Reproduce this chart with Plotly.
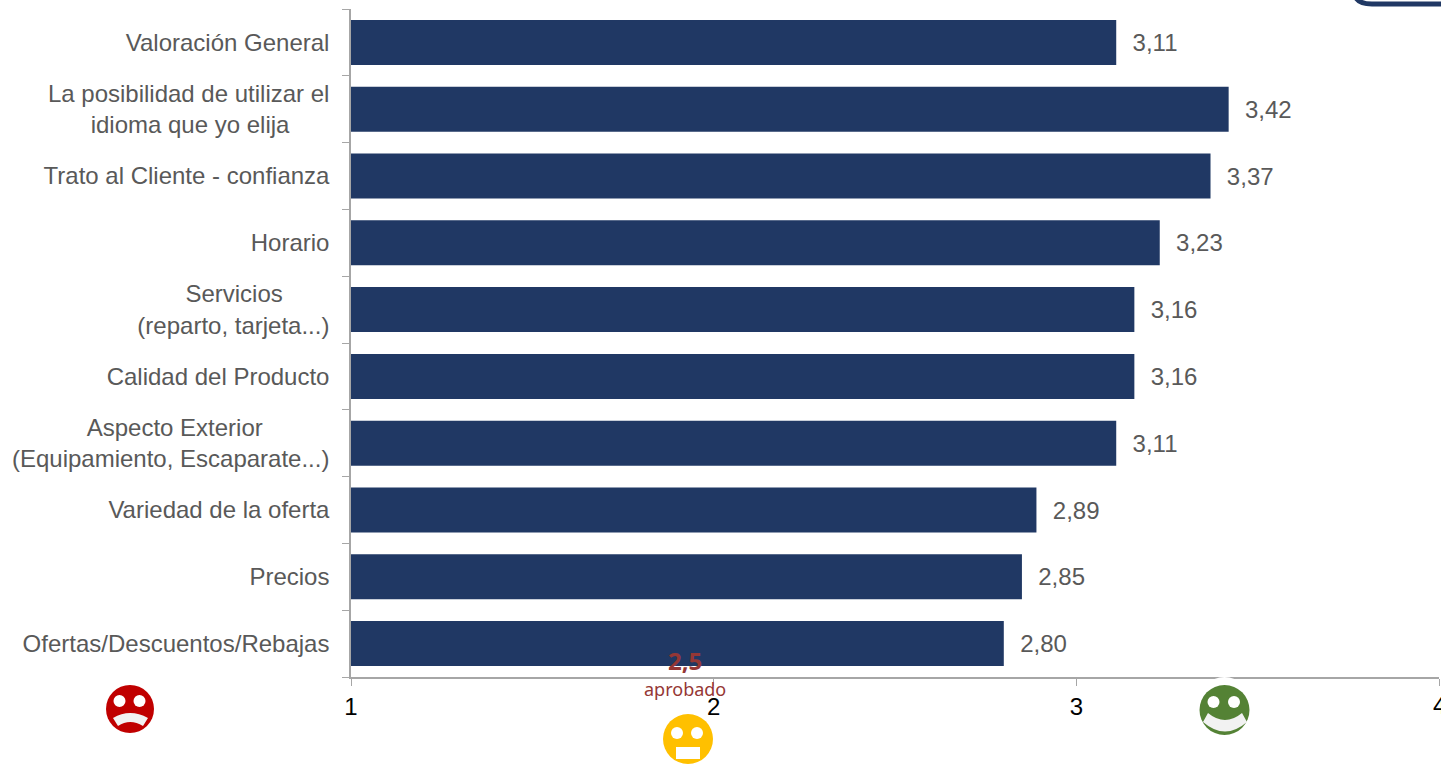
import plotly.graph_objects as go

NB = "\u00a0"
categories = [
    "Valoración General",
    "La posibilidad de utilizar el<br>idioma que yo elija" ,
    "Trato al Cliente - confianza",
    "Horario",
    "Servicios<br>(reparto, tarjeta...)",
    "Calidad del Producto",
    "Aspecto Exterior<br>(Equipamiento, Escaparate...)",
    "Variedad de la oferta",
    "Precios",
    "Ofertas/Descuentos/Rebajas",
]
tick_labels = [
    "Valoración General",
    "La posibilidad de utilizar el<br>idioma que yo elija" + NB * 6,
    "Trato al Cliente - confianza",
    "Horario",
    "Servicios" + NB * 7 + "<br>(reparto, tarjeta...)",
    "Calidad del Producto",
    "Aspecto Exterior" + NB * 10 + "<br>(Equipamiento, Escaparate...)",
    "Variedad de la oferta",
    "Precios",
    "Ofertas/Descuentos/Rebajas",
]
values = [3.11, 3.42, 3.37, 3.23, 3.16, 3.16, 3.11, 2.89, 2.85, 2.80]
x_ticks = [1, 2, 3, 4]

W, H = 1441, 764
L, R, T, B = 351, 1439, 9, 677
GREY = "#A6A6A6"
NAVY = "#203864"
TXT = "#595959"
MAROON = "#953735"


def px(x):
    return (x - L) / (R - L)


def py(y):
    return (B - y) / (B - T)


def circle(cx, cy, r, color):
    return dict(type="circle", xref="paper", yref="paper", layer="above",
                x0=px(cx - r), x1=px(cx + r), y0=py(cy + r), y1=py(cy - r),
                fillcolor=color, line_width=0)


def path(cmds, color, width=0, fill=None):
    parts = []
    for c in cmds:
        op, pts = c[0], c[1:]
        parts.append(op + " ".join(f"{px(a):.6f},{py(b):.6f}" for a, b in pts))
    return dict(type="path", xref="paper", yref="paper", layer="above",
                path=" ".join(parts) + (" Z" if fill else ""),
                fillcolor=fill if fill else "rgba(0,0,0,0)",
                line=dict(color=color, width=width))


FACE = "#F2F2F2"
shapes = [
    # sad face
    circle(130, 709, 24, "#C00000"),
    circle(119.5, 701, 6, "white"),
    circle(139.5, 701, 6, "white"),
    path([("M", (113, 718)), ("Q", (130, 708), (148, 718)), ("L", (143, 726)),
          ("Q", (130, 718), (118, 726))], FACE, fill=FACE),
    # neutral face
    circle(688, 739, 25, "#FFC000"),
    circle(677, 733, 6, "white"),
    circle(697, 733, 6, "white"),
    path([("M", (676, 747)), ("L", (700, 747)), ("L", (700, 759)), ("L", (676, 759))], "white", fill="white"),
    # happy face
    circle(1224.5, 703, 26, "white"),
    circle(1224.5, 710, 25, "#548235"),
    circle(1213.5, 702, 6, "white"),
    circle(1234, 702, 6, "white"),
    path([("M", (1208, 713)), ("Q", (1225, 727), (1242, 713)), ("L", (1247, 722)),
          ("Q", (1225, 741), (1203, 722))], FACE, fill=FACE),
    # clipped rounded frame in the top right corner
    path([("M", (1356, -2)), ("Q", (1360, 4), (1372, 4)), ("L", (1445, 4))], NAVY, width=5),
]

fig = go.Figure(go.Bar(
    x=values, y=categories, orientation="h",
    marker=dict(color=NAVY, line_width=0),
    text=[NB * 2 + f"{v:.2f}".replace(".", ",") for v in values],
    textposition="outside", cliponaxis=False,
    textfont=dict(family="Liberation Sans", size=24, color=TXT),
    hoverinfo="x+y",
))

fig.update_layout(
    width=W, height=H, autosize=False,
    margin=dict(l=L, r=W - R, t=T, b=H - B, pad=0),
    paper_bgcolor="white", plot_bgcolor="white",
    bargap=0.326, showlegend=False,
    font=dict(family="Liberation Sans"),
    shapes=shapes,
    annotations=[
        dict(text="<b>2,5</b>", xref="paper", yref="paper", x=px(685), y=py(660), showarrow=False,
             xanchor="center", yanchor="middle",
             font=dict(family="Noto Sans", size=24, color=MAROON)),
        dict(text="aprobado", xref="paper", yref="paper", x=px(685), y=py(689), showarrow=False,
             xanchor="center", yanchor="middle",
             font=dict(family="Noto Sans", size=18, color=MAROON)),
        # Plotly hides a tick label that would run past the page, and widening the page
        # pushes the plot area, so the last label is placed on the axis as an annotation.
        dict(text=str(x_ticks[-1]), xref="x", yref="paper", x=x_ticks[-1], y=py(705), showarrow=False,
             xanchor="center", yanchor="middle",
             font=dict(family="Liberation Sans", size=24, color="black")),
    ],
)
fig.update_xaxes(
    range=[1, 4], tickmode="array", tickvals=x_ticks, ticktext=[str(t) for t in x_ticks],
    showgrid=False, zeroline=False, showline=True, linecolor=GREY, linewidth=1.5,
    ticks="outside", ticklen=7, tickwidth=1, tickcolor=GREY,
    tickfont=dict(family="Liberation Sans", size=24, color="black"),
)
fig.update_yaxes(
    autorange="reversed", type="category", categoryorder="array", categoryarray=categories,
    tickmode="array", tickvals=categories, ticktext=tick_labels,
    tickson="boundaries", showgrid=False, zeroline=False,
    showline=True, linecolor=GREY, linewidth=1.5,
    ticks="outside", ticklen=7, tickwidth=1, tickcolor=GREY,
    tickfont=dict(family="Liberation Sans", size=24, color=TXT),
    ticklabelstandoff=15,
)

fig.write_html("out.html", config={"displayModeBar": False},
               post_script="document.body.style.margin='0';")
